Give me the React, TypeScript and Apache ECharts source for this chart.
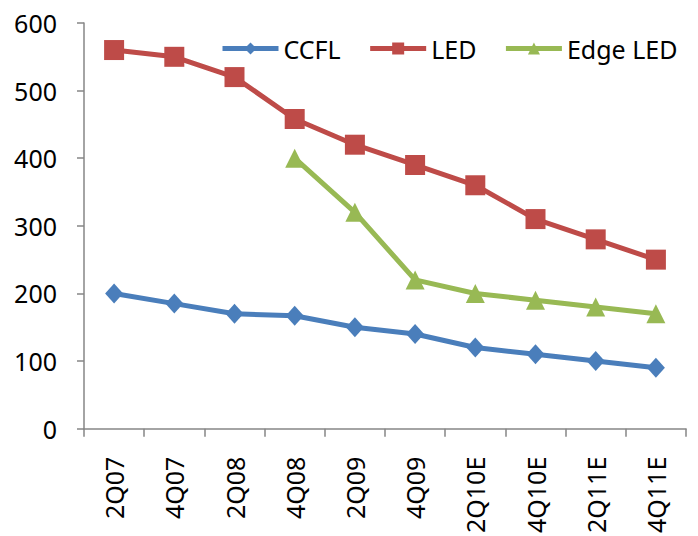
import React, { useEffect, useRef } from "react";
import * as echarts from "echarts";

const categories = ["2Q07", "4Q07", "2Q08", "4Q08", "2Q09", "4Q09", "2Q10E", "4Q10E", "2Q11E", "4Q11E"];
const ccfl = [200, 185, 170, 167, 150, 140, 120, 110, 100, 90];
const led = [560, 550, 520, 458, 420, 390, 360, 310, 280, 250];
const edgeLed = [null, null, null, 400, 320, 220, 200, 190, 180, 170];
const yTicks = { min: 0, max: 600, interval: 100 };

export default function App() {
  const ref = useRef<HTMLDivElement>(null);
  useEffect(() => {
    if (!ref.current) return;
    const chart = echarts.init(ref.current, undefined, { renderer: "svg" });
    const font = "'Noto Sans', 'Open Sans', sans-serif";
    chart.setOption({
      animation: false,
      textStyle: { fontFamily: font },
      grid: { left: 84, right: 12, top: 23, bottom: 106, containLabel: false },
      legend: {
        top: 36,
        left: 220,
        padding: 0,
        itemWidth: 56,
        itemHeight: 15,
        itemGap: 27,
        lineStyle: { width: 5 },
        textStyle: { fontSize: 25, color: "#000", fontFamily: font },
        data: ["CCFL", "LED", "Edge LED"],
      },
      xAxis: {
        type: "category",
        data: categories,
        boundaryGap: true,
        axisLine: { lineStyle: { color: "#868686", width: 1.5 } },
        axisTick: { show: true, length: 8, interval: 0, lineStyle: { color: "#868686", width: 1.5 } },
        axisLabel: { rotate: 90, interval: 0, fontSize: 25, color: "#000", margin: 28, fontFamily: font },
        splitLine: { show: false },
      },
      yAxis: {
        type: "value",
        min: yTicks.min,
        max: yTicks.max,
        interval: yTicks.interval,
        axisLine: { show: true, lineStyle: { color: "#868686", width: 1.5 } },
        axisTick: { show: true, length: 7, lineStyle: { color: "#868686", width: 1.5 } },
        axisLabel: { fontSize: 25, color: "#000", margin: 27, fontFamily: font },
        splitLine: { show: false },
      },
      series: [
        {
          name: "CCFL",
          type: "line",
          data: ccfl,
          symbol: "diamond",
          symbolSize: [18, 20],
          itemStyle: { color: "#4a7ebb" },
          lineStyle: { width: 5, color: "#4a7ebb" },
        },
        {
          name: "LED",
          type: "line",
          data: led,
          symbol: "rect",
          symbolSize: 20,
          itemStyle: { color: "#be4b48" },
          lineStyle: { width: 5, color: "#be4b48" },
        },
        {
          name: "Edge LED",
          type: "line",
          data: edgeLed,
          symbol: "triangle",
          symbolSize: 19,
          connectNulls: false,
          itemStyle: { color: "#98b954" },
          lineStyle: { width: 5, color: "#98b954" },
        },
      ],
    });
    return () => chart.dispose();
  }, []);
  return <div ref={ref} style={{ position: "absolute", left: 0, top: 0, width: 698, height: 536 }} />;
}
